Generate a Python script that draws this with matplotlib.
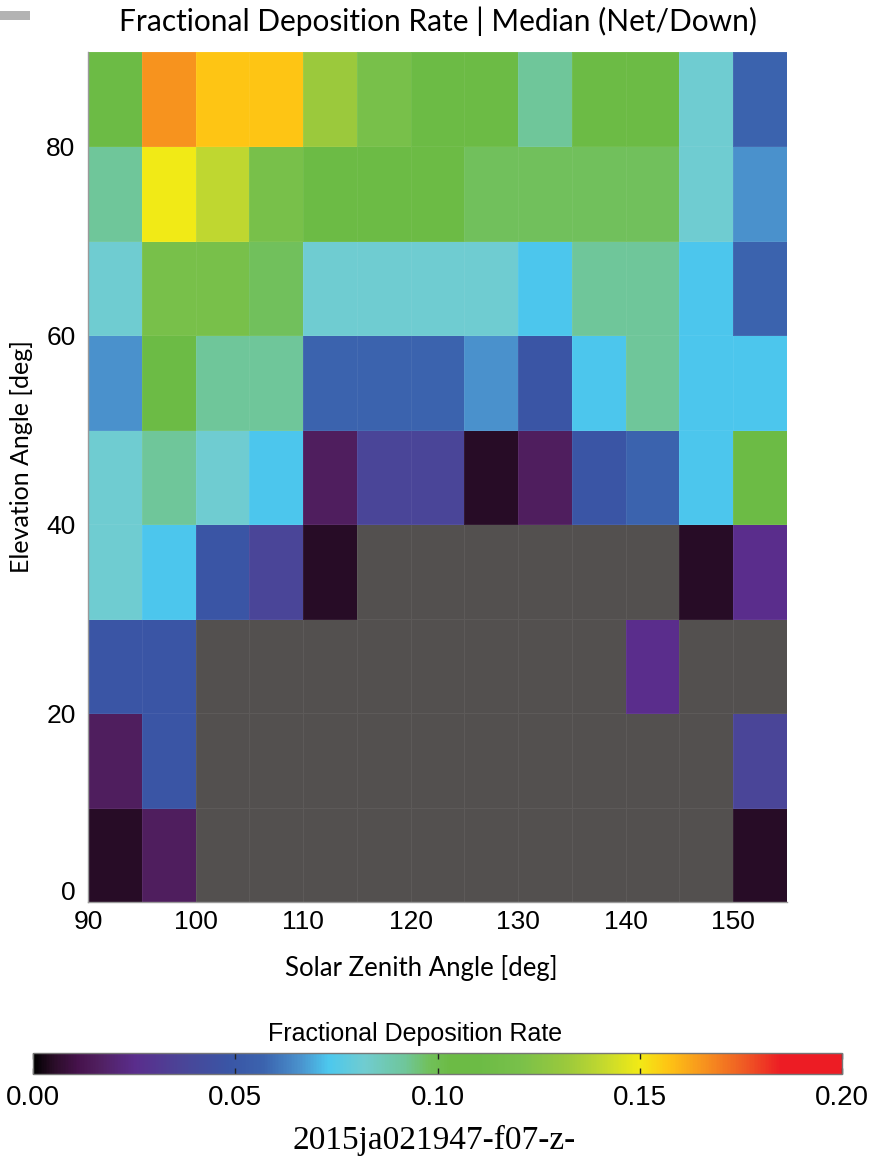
import numpy as np
import matplotlib
matplotlib.use('Agg')
import matplotlib.pyplot as plt
import matplotlib.transforms as mtransforms
from matplotlib.colors import LinearSegmentedColormap
from matplotlib.patches import Rectangle

# Bin edges (deg)
sza_edges = np.arange(90, 160, 5)      # solar zenith angle
elev_edges = np.arange(0, 100, 10)     # elevation angle

# Median fractional deposition rate, rows = elevation bins (0-10 ... 80-90),
# columns = SZA bins (90-95 ... 150-155). nan = no data
rate_00 = [0.005, 0.016, np.nan, np.nan, np.nan, np.nan, np.nan, np.nan, np.nan, np.nan, np.nan, np.nan, 0.005]
rate_10 = [0.016, 0.048, np.nan, np.nan, np.nan, np.nan, np.nan, np.nan, np.nan, np.nan, np.nan, np.nan, 0.037]
rate_20 = [0.048, 0.048, np.nan, np.nan, np.nan, np.nan, np.nan, np.nan, np.nan, np.nan, 0.025, np.nan, np.nan]
rate_30 = [0.082, 0.073, 0.048, 0.037, 0.005, np.nan, np.nan, np.nan, np.nan, np.nan, np.nan, 0.005, 0.025]
rate_40 = [0.082, 0.092, 0.082, 0.073, 0.016, 0.037, 0.037, 0.005, 0.016, 0.048, 0.057, 0.073, 0.105]
rate_50 = [0.066, 0.105, 0.092, 0.092, 0.057, 0.057, 0.057, 0.066, 0.048, 0.073, 0.092, 0.073, 0.073]
rate_60 = [0.082, 0.120, 0.120, 0.098, 0.082, 0.082, 0.082, 0.082, 0.073, 0.092, 0.092, 0.073, 0.057]
rate_70 = [0.092, 0.150, 0.140, 0.120, 0.105, 0.105, 0.105, 0.098, 0.098, 0.098, 0.098, 0.082, 0.066]
rate_80 = [0.105, 0.166, 0.157, 0.157, 0.132, 0.120, 0.105, 0.105, 0.092, 0.105, 0.105, 0.082, 0.057]

rate = np.ma.masked_invalid(np.array([rate_00, rate_10, rate_20, rate_30, rate_40,
                                      rate_50, rate_60, rate_70, rate_80]))

vmax = 0.2
xticks = [90, 100, 110, 120, 130, 140, 150]
yticks = [0, 20, 40, 60, 80]
cbar_ticks = [0.0, 0.05, 0.10, 0.15, 0.20]
cbar_labels = ['0.00', '0.05', '0.10', '0.15', '0.20']

# Colour table: black -> purple -> blue -> cyan -> green -> yellow -> red
anchors = [
    (0.000, '#000000'), (0.005, '#2a0d28'), (0.011, '#46124c'), (0.016, '#501f5f'),
    (0.025, '#5a2d8c'), (0.037, '#4a4598'), (0.048, '#3a55a5'), (0.057, '#3b63ae'),
    (0.066, '#4a92cd'), (0.073, '#4cc8ee'), (0.082, '#70ccd0'), (0.092, '#6fc69a'),
    (0.098, '#71c05a'), (0.103, '#6cbb45'), (0.110, '#6cbb45'), (0.120, '#78c04a'),
    (0.132, '#9bc93c'), (0.140, '#bed730'), (0.150, '#f2ea16'), (0.157, '#fec514'),
    (0.166, '#f7931e'), (0.176, '#ef5a24'), (0.185, '#ed1c24'), (0.200, '#ed1c24'),
]
cmap = LinearSegmentedColormap.from_list('dep', [(v / vmax, c) for v, c in anchors], N=512)
cmap.set_bad('#53504f')

numfont = ['Liberation Sans', 'DejaVu Sans']
humanist = ['Lato', 'DejaVu Sans']

fig = plt.figure(figsize=(8.71, 11.6), dpi=100)
W, H = 871, 1160

ax = fig.add_axes([88 / W, 1 - 902 / H, (787 - 88) / W, (902 - 52) / H])
ax.set_facecolor('#53504f')
mesh = ax.pcolormesh(sza_edges, elev_edges, rate, cmap=cmap, vmin=0, vmax=vmax,
                     edgecolors=(1, 1, 1, 0.06), linewidth=0.6)
ax.set_xlim(90, 155)
ax.set_ylim(0, 90)
ax.set_xticks(xticks)
ax.set_yticks(yticks)
ax.tick_params(axis='x', length=0, pad=6)
ax.tick_params(axis='y', length=0, pad=9)
for lab in ax.get_xticklabels() + ax.get_yticklabels():
    lab.set_family(numfont)
    lab.set_fontsize(19)
# lift the "0" label so it clears the "90" below it
zero_lab = ax.get_yticklabels()[0]
zero_lab.set_transform(zero_lab.get_transform() +
                       mtransforms.ScaledTranslation(0, 12 / 100, fig.dpi_scale_trans))
for side in ['top', 'right']:
    ax.spines[side].set_visible(False)
for side in ['left', 'bottom']:
    ax.spines[side].set_color('#9a9a9a')
    ax.spines[side].set_linewidth(1.0)

ax.set_title('Fractional Deposition Rate | Median (Net/Down)', family=humanist,
             fontsize=21.5, pad=15)
ax.set_xlabel('Solar Zenith Angle [deg]', family=humanist, fontsize=18.5)
ax.xaxis.set_label_coords((421 - 88) / 699, -(955 - 902) / 850)
ax.set_ylabel('Elevation Angle [deg]', family=humanist, fontsize=18)
ax.yaxis.set_label_coords((33 - 88) / 699, (902 - 457) / 850)

# Colour bar
cax = fig.add_axes([33 / W, 1 - 1074 / H, (842 - 33) / W, 21 / H])
cb = fig.colorbar(mesh, cax=cax, orientation='horizontal', ticks=cbar_ticks)
cb.outline.set_edgecolor('#777777')
cb.outline.set_linewidth(1.0)
cax.tick_params(direction='in', length=4, width=1, color='#222222',
                top=True, bottom=True, pad=8)
cax.set_xticklabels(cbar_labels)
for lab in cax.get_xticklabels():
    lab.set_family(numfont)
    lab.set_fontsize(20)
cax.set_title('Fractional Deposition Rate', family=['Liberation Sans', 'DejaVu Sans'],
              fontsize=18, pad=9, x=(415 - 33) / 809)

fig.text(434 / W, 1 - 1140 / H, '2015ja021947-f07-z-', family=['Liberation Serif', 'DejaVu Serif'],
         fontsize=24, ha='center', va='center')

# grey tab in the upper left corner
fig.patches.append(Rectangle((0, 1 - 20 / H), 30 / W, 9 / H, transform=fig.transFigure,
                             facecolor='#b3b3b3', edgecolor='none'))

fig.savefig('out.png', dpi=100)
